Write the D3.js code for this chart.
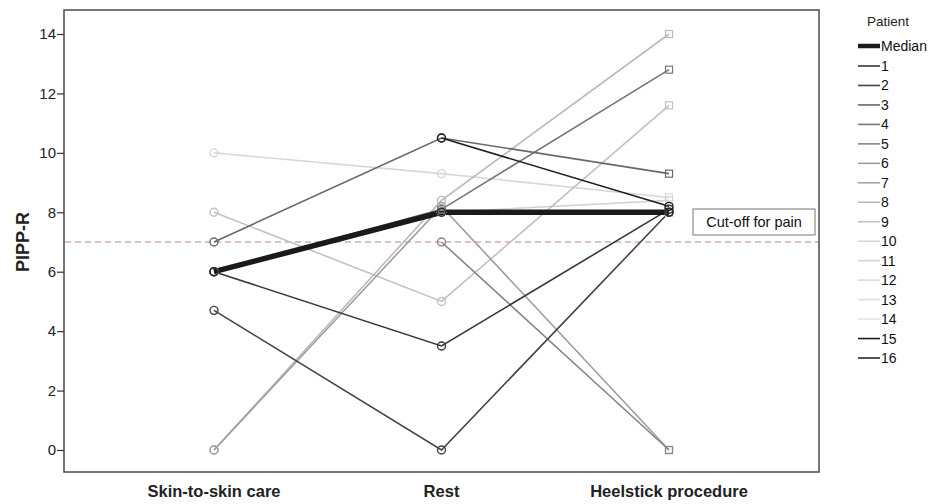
<!DOCTYPE html>
<html><head><meta charset="utf-8">
<script src="https://cdn.jsdelivr.net/npm/d3@7"></script>
<style>body{margin:0;background:#fff;}svg{display:block;font-family:"Liberation Sans",Arial,Helvetica,sans-serif;}</style>
</head><body><svg id="c" width="933" height="504"></svg>
<script>
const categories = ["Skin-to-skin care", "Rest", "Heelstick procedure"];
const yTicks = [0, 2, 4, 6, 8, 10, 12, 14];
const patients = ["1","2","3","4","5","6","7","8","9","10","11","12","13","14","15","16"];
const median = [6, 8, 8];
const p1  = [6, 3.5, 8.1];
const p2  = [4.7, 0, 8.0];
const p3  = [7, 10.5, 9.3];
const p4  = [6, 8.1, 12.8];
const p5  = [null, 7, 0];
const p6  = [0, 8.2, 0];
const p7  = [6, 8, 8];
const p8  = [0, 8.4, 14];
const p9  = [8, 5, 11.6];
const p10 = [10, 9.3, 8.5];
const p11 = [6, 8, 8.4];
const p12 = [6, 8, 8];
const p13 = [6, 8, 8];
const p14 = [6, 8, 8];
const p15 = [null, 10.5, 8.2];
const p16 = [6, 8, 8];
const cutoff = 7;
const series = [p1,p2,p3,p4,p5,p6,p7,p8,p9,p10,p11,p12,p13,p14,p15,p16];
const colors = ["#3a3737","#474343","#6e6663","#7d7572","#8c8480","#a39c99","#aca6a3","#bdb8b6","#c4c0be","#dad7d5","#d6d3d1","#dddbda","#e0dedd","#e6e4e3","#1e1e1e","#2a2828"];

const svg = d3.select("#c");
const L = 64, T = 10, R = 819, B = 472;
const xs = d3.scaleLinear().domain([0, 2]).range([214, 669]);
const y = d3.scaleLinear().domain([0, 14]).range([450, 34]);

// frame
svg.append("rect").attr("x", L).attr("y", T).attr("width", R - L).attr("height", B - T)
  .attr("fill", "#fff").attr("stroke", "#4a4a4a").attr("stroke-width", 1.5);

// y axis
const yAxis = d3.axisLeft(y).tickValues(yTicks).tickSize(7).tickPadding(1);
const gy = svg.append("g").attr("transform", `translate(${L},0)`).call(yAxis);
gy.select(".domain").remove();
gy.selectAll(".tick line").attr("stroke", "#333").attr("stroke-width", 1.2);
gy.selectAll(".tick text").attr("font-size", 15).attr("fill", "#222").attr("font-family", "Liberation Sans, Arial, sans-serif");

svg.append("text").attr("transform", `translate(29,${y(7)}) rotate(-90)`).attr("text-anchor", "middle")
  .attr("font-size", 18).attr("font-weight", "bold").attr("fill", "#222").text("PIPP-R");

// x labels
svg.selectAll(".xl").data(categories).enter().append("text")
  .attr("x", (d, i) => xs(i)).attr("y", 497).attr("text-anchor", "middle")
  .attr("font-size", 16.5).attr("font-weight", "bold").attr("fill", "#222").text(d => d);

// cutoff line
svg.append("line").attr("x1", L + 1).attr("x2", R - 1).attr("y1", y(cutoff)).attr("y2", y(cutoff))
  .attr("stroke", "#b88a80").attr("stroke-width", 1.2).attr("stroke-dasharray", "6,4");
svg.append("rect").attr("x", 693).attr("y", 209).attr("width", 122).attr("height", 26)
  .attr("fill", "#fff").attr("stroke", "#777").attr("stroke-width", 1);
svg.append("text").attr("x", 754).attr("y", 227).attr("text-anchor", "middle")
  .attr("font-size", 14.5).attr("fill", "#111").text("Cut-off for pain");

const lineIdx = d3.line().defined(d => d.v != null).x(d => xs(d.i)).y(d => y(d.v));

// draw light first, dark last
const order = d3.range(series.length).sort((a, b) => d3.hsl(colors[b]).l - d3.hsl(colors[a]).l);
order.forEach(k => {
  const pts = series[k].map((v, i) => ({v, i}));
  svg.append("path").datum(pts).attr("d", lineIdx).attr("fill", "none")
    .attr("stroke", colors[k]).attr("stroke-width", 1.6);
});

// median
svg.append("path").datum(median.map((v, i) => ({v, i}))).attr("d", lineIdx).attr("fill", "none")
  .attr("stroke", "#1a1a1a").attr("stroke-width", 5.5);

// markers
order.forEach(k => {
  series[k].forEach((v, i) => {
    if (v == null) return;
    const sq = (i === 2 && k >= 2 && k <= 13);
    if (sq) {
      svg.append("rect").attr("x", xs(i) - 3.5).attr("y", y(v) - 3.5).attr("width", 7).attr("height", 7)
        .attr("fill", "none").attr("stroke", colors[k]).attr("stroke-width", 1.2);
    } else {
      svg.append("circle").attr("cx", xs(i)).attr("cy", y(v)).attr("r", 4)
        .attr("fill", "none").attr("stroke", colors[k]).attr("stroke-width", 1.4);
    }
  });
});

// legend
svg.append("text").attr("x", 867).attr("y", 26).attr("font-size", 13.5).attr("fill", "#222").text("Patient");
svg.append("line").attr("x1", 858).attr("x2", 880).attr("y1", 46).attr("y2", 46)
  .attr("stroke", "#1a1a1a").attr("stroke-width", 4.5);
svg.append("text").attr("x", 881).attr("y", 51).attr("font-size", 14).attr("fill", "#111").text("Median");
const ly = d3.scalePoint().domain(patients).range([66, 358]);
const lg = svg.selectAll(".lg").data(patients).enter().append("g")
  .attr("transform", d => `translate(0,${ly(d)})`);
lg.append("line").attr("x1", 858).attr("x2", 880).attr("y1", 0).attr("y2", 0)
  .attr("stroke", (d, i) => colors[i]).attr("stroke-width", 1.6);
lg.append("text").attr("x", 881).attr("y", 5).attr("font-size", 14).attr("fill", "#111").text(d => d);
</script></body></html>
